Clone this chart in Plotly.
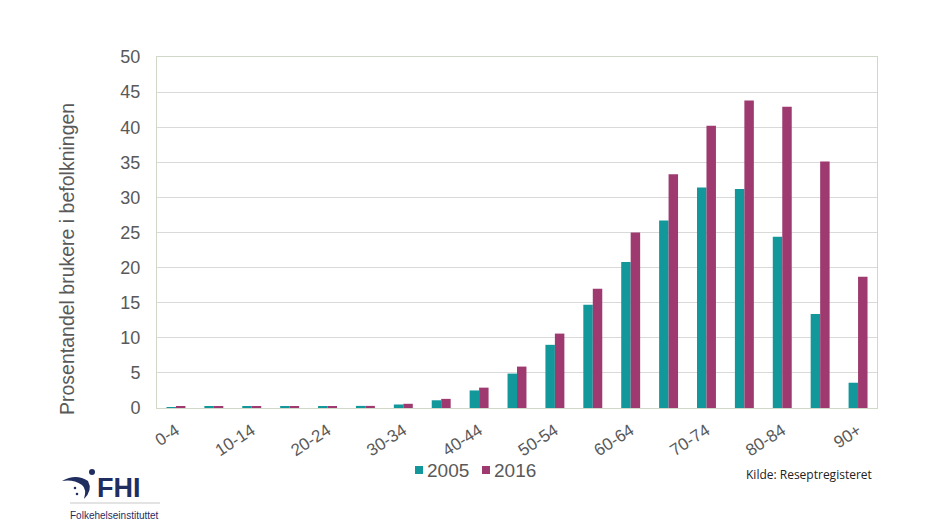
import plotly.graph_objects as go

categories = ["0-4", "5-9", "10-14", "15-19", "20-24", "25-29", "30-34", "35-39", "40-44",
              "45-49", "50-54", "55-59", "60-64", "65-69", "70-74", "75-79", "80-84", "85-89", "90+"]
values_2005 = [0.05, 0.2, 0.2, 0.2, 0.2, 0.3, 0.5, 1.1, 2.5, 4.9, 9.0, 14.7, 20.8, 26.7, 31.4, 31.2, 24.4, 13.4, 3.6]
values_2016 = [0.2, 0.2, 0.2, 0.2, 0.2, 0.3, 0.6, 1.3, 2.9, 5.9, 10.6, 17.0, 25.0, 33.3, 40.2, 43.8, 42.9, 35.1, 18.7]
tick_labels = ["0-4", "10-14", "20-24", "30-34", "40-44", "50-54", "60-64", "70-74", "80-84", "90+"]
y_ticks = [0, 5, 10, 15, 20, 25, 30, 35, 40, 45, 50]
series_names = ["2005", "2016"]
y_title = "Prosentandel brukere i befolkningen"

C2005 = "#12989A"
C2016 = "#9E3A70"
GREY = "#595959"
NAVY = "#1F2D5F"

# plot area in viewport pixels (page has 8px body margin)
PL, PR, PT, PB = 157, 877, 57, 408
def px(x):
    return (x - PL) / (PR - PL)
def py(y):
    return (PB - y) / (PB - PT)

fig = go.Figure()
fig.add_trace(go.Bar(x=categories, y=values_2005, name=series_names[0], marker_color=C2005, marker_line_width=0))
fig.add_trace(go.Bar(x=categories, y=values_2016, name=series_names[1], marker_color=C2016, marker_line_width=0))

fig.update_layout(
    width=951, height=528,
    margin=dict(l=PL - 8, r=951 - PR + 8, t=PT - 8, b=528 - PB + 8),
    paper_bgcolor="white", plot_bgcolor="white",
    barmode="group", bargap=0.5, bargroupgap=0,
    font=dict(family="Liberation Sans, Arial, sans-serif", color=GREY),
    showlegend=False,
    xaxis=dict(
        type="category", tickmode="array", tickvals=tick_labels, ticktext=tick_labels,
        tickangle=-33, tickfont=dict(size=17, color=GREY), showgrid=False,
        showline=True, linecolor="#D0D8C8", linewidth=1, mirror=True, ticks="",
        ticklabelstandoff=5,
    ),
    yaxis=dict(
        range=[0, 50], tickmode="array", tickvals=y_ticks, tickfont=dict(size=18, color=GREY),
        showgrid=True, gridcolor="#D9D9D9", gridwidth=1, zeroline=False,
        showline=True, linecolor="#D0D8C8", linewidth=1, mirror=True, ticks="",
        ticklabelstandoff=12,
    ),
)

# y-axis title placed like the original (offset downward)
fig.add_annotation(text=y_title, xref="paper", yref="paper", x=px(67), xanchor="center",
                   y=py(259), yanchor="middle", textangle=-90, showarrow=False,
                   font=dict(size=19.5, color=GREY))

# legend (custom, to match compact Excel style)
for name, color, sq_x in [(series_names[0], C2005, 415), (series_names[1], C2016, 482)]:
    fig.add_shape(type="rect", xref="paper", yref="paper", x0=px(sq_x), x1=px(sq_x + 8),
                  y0=py(474), y1=py(466), fillcolor=color, line=dict(width=0))
    fig.add_annotation(text=name, xref="paper", yref="paper", x=px(sq_x + 10), xanchor="left",
                       y=py(470), yanchor="middle", showarrow=False,
                       font=dict(size=19, color=GREY))

fig.add_annotation(text="Kilde: Reseptregisteret", xref="paper", yref="paper",
                   x=px(874), xanchor="right", y=py(474), yanchor="middle", showarrow=False,
                   font=dict(size=12, color="#222222", family="Open Sans, sans-serif"))

# FHI logo (approximation)
fig.add_annotation(text="<b>FHI</b>", xref="paper", yref="paper",
                   x=px(95), xanchor="left", y=py(488), yanchor="middle", showarrow=False,
                   font=dict(size=27, color=NAVY, family="Liberation Sans, Arial, sans-serif"))
fig.add_annotation(text="Folkehelseinstituttet", xref="paper", yref="paper",
                   x=px(68), xanchor="left", y=py(515), yanchor="middle", showarrow=False,
                   font=dict(size=10, color=NAVY, family="Liberation Sans, Arial, sans-serif"))
fig.add_shape(type="line", xref="paper", yref="paper", x0=px(70), x1=px(160), y0=py(503), y1=py(503),
              line=dict(color="#C8C8C8", width=1))
pts = [("M", 62, 481), ("Q", 76, 473), ("", 88, 481), ("Q", 93, 490), ("", 84, 499),
       ("Q", 87, 489), ("", 82, 485), ("Q", 73, 479), ("", 62, 481)]
path = " ".join(f"{c} {px(x):.5f} {py(y):.5f}".strip() for c, x, y in pts) + " Z"
fig.add_shape(type="path", xref="paper", yref="paper", path=path, fillcolor=NAVY, line=dict(width=0))
for cx, cy, r in [(92, 472, 3), (75, 488, 1.3), (77, 494, 1.3)]:
    fig.add_shape(type="circle", xref="paper", yref="paper", x0=px(cx - r), x1=px(cx + r),
                  y0=py(cy + r), y1=py(cy - r), fillcolor=NAVY, line=dict(width=0))

fig.write_html("out.html")
